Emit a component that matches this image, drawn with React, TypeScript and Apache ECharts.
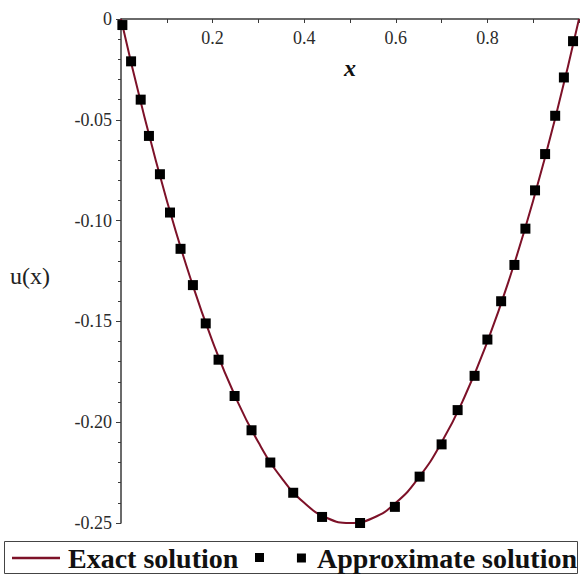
import React, { useEffect, useRef } from "react";
import * as echarts from "echarts";

// Exact solution
const xExact = [0, 0.05, 0.1, 0.15, 0.2, 0.25, 0.3, 0.35, 0.4, 0.45, 0.5, 0.55, 0.6, 0.65, 0.7, 0.75, 0.8, 0.85, 0.9, 0.95, 1];
const yExact = [0, -0.0475, -0.09, -0.1275, -0.16, -0.1875, -0.21, -0.2275, -0.24, -0.2475, -0.25, -0.2475, -0.24, -0.2275, -0.21, -0.1875, -0.16, -0.1275, -0.09, -0.0475, 0];

// Approximate solution markers
const xApprox = [0.003, 0.022, 0.043, 0.061, 0.085, 0.107, 0.13, 0.157, 0.185, 0.213, 0.248, 0.285, 0.326, 0.376, 0.439, 0.522, 0.598, 0.652, 0.7, 0.735, 0.772, 0.8, 0.83, 0.859, 0.883, 0.904, 0.926, 0.948, 0.967, 0.987];
const yApprox = [-0.003, -0.021, -0.04, -0.058, -0.077, -0.096, -0.114, -0.132, -0.151, -0.169, -0.187, -0.204, -0.22, -0.235, -0.247, -0.25, -0.242, -0.227, -0.211, -0.194, -0.177, -0.159, -0.14, -0.122, -0.104, -0.085, -0.067, -0.048, -0.029, -0.011];

const seriesNames = ["Exact solution", "Approximate solution"];
const xAxisTitle = "x";
const yAxisTitle = "u(x)";

const SERIF = "Liberation Serif";
const LINE_COLOR = "#7d1128";

export default function App() {
  const ref = useRef<HTMLDivElement>(null);
  useEffect(() => {
    if (!ref.current) return;
    const chart = echarts.init(ref.current, undefined, { renderer: "svg" });
    const exact = xExact.map((x, i) => [x, yExact[i]]);
    const approx = xApprox.map((x, i) => [x, yApprox[i]]);
    chart.setOption({
      animation: false,
      backgroundColor: "#ffffff",
      grid: { left: 121, right: 1, top: 19, bottom: 53, containLabel: false },
      xAxis: {
        type: "value",
        position: "top",
        min: 0,
        max: 1,
        interval: 0.2,
        axisLine: { show: true, onZero: false, lineStyle: { color: "#3a3a3a", width: 1.5 } },
        axisTick: { show: true, inside: true, length: 4, lineStyle: { color: "#3a3a3a" } },
        minorTick: { show: true, splitNumber: 2, length: 4, lineStyle: { color: "#3a3a3a" } },
        splitLine: { show: false },
        axisLabel: {
          inside: true,
          margin: 10,
          fontFamily: SERIF,
          fontSize: 18,
          color: "#2b2b2b",
          formatter: (v: number) => (v === 0 || v === 1 ? "" : String(+v.toFixed(1))),
        },
      },
      yAxis: {
        type: "value",
        min: -0.25,
        max: 0,
        interval: 0.05,
        axisLine: { show: true, onZero: false, lineStyle: { color: "#3a3a3a", width: 1.5 } },
        axisTick: { show: true, inside: false, length: 5, lineStyle: { color: "#3a3a3a" } },
        minorTick: { show: true, splitNumber: 5, length: 3, lineStyle: { color: "#3a3a3a" } },
        splitLine: { show: false },
        axisLabel: {
          margin: 9,
          fontFamily: SERIF,
          fontSize: 18,
          color: "#2b2b2b",
          formatter: (v: number) => (Math.abs(v) < 1e-9 ? "0" : v.toFixed(2)),
        },
      },
      legend: [
        {
          data: [{ name: seriesNames[0], icon: "rect", itemStyle: { color: LINE_COLOR } }],
          left: 12,
          top: 544,
          padding: 0,
          itemWidth: 48,
          itemHeight: 2.5,
          textStyle: { fontFamily: SERIF, fontSize: 28, fontWeight: "bold", color: "#111", padding: [0, 0, 0, 3] },
        },
        {
          data: [{ name: seriesNames[1], icon: "rect", itemStyle: { color: "#000", opacity: 1 } }],
          right: 5,
          top: 544,
          padding: 0,
          itemWidth: 9,
          itemHeight: 9,
          textStyle: { fontFamily: SERIF, fontSize: 28, fontWeight: "bold", color: "#111", padding: [0, 0, 0, 6] },
        },
      ],
      graphic: [
        {
          type: "rect",
          shape: { x: 4.5, y: 541.5, width: 573, height: 32 },
          style: { fill: "none", stroke: "#444", lineWidth: 1 },
          silent: true,
        },
        {
          type: "rect",
          shape: { x: 255, y: 553, width: 9, height: 9 },
          style: { fill: "#000" },
          silent: true,
        },
        {
          type: "text",
          x: 350,
          y: 68,
          style: {
            text: xAxisTitle,
            font: `italic bold 24px ${SERIF}`,
            fill: "#111",
            align: "center",
            verticalAlign: "middle",
          },
        },
        {
          type: "text",
          x: 30,
          y: 276,
          style: {
            text: yAxisTitle,
            font: `24px ${SERIF}`,
            fill: "#222",
            align: "center",
            verticalAlign: "middle",
          },
        },
      ],
      series: [
        {
          name: seriesNames[0],
          type: "line",
          data: exact,
          smooth: true,
          symbol: "none",
          lineStyle: { color: LINE_COLOR, width: 2 },
          itemStyle: { color: LINE_COLOR },
          z: 2,
        },
        {
          name: seriesNames[1],
          type: "scatter",
          data: approx,
          symbol: "rect",
          symbolSize: 10,
          clip: false,
          itemStyle: { color: "#000", opacity: 1 },
          z: 3,
        },
      ],
    });
    return () => chart.dispose();
  }, []);
  return (
    <div
      ref={ref}
      style={{ position: "fixed", left: 0, top: 0, width: 582, height: 576, background: "#fff" }}
    />
  );
}
